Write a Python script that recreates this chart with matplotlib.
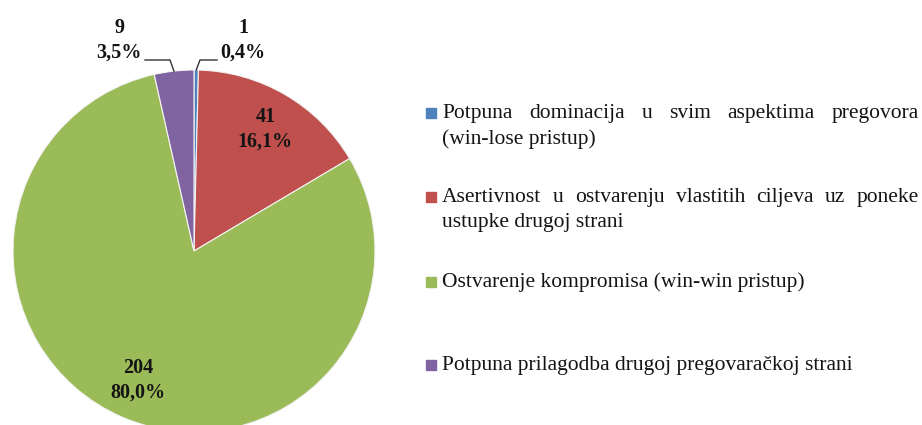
import numpy as np
import matplotlib
matplotlib.use("Agg")
import matplotlib.pyplot as plt
from matplotlib.patches import Rectangle

# dati
counts = [1, 41, 204, 9]
percent_labels = ["0,4%", "16,1%", "80,0%", "3,5%"]
colors = ["#4F81BD", "#C0504D", "#9BBB59", "#8064A2"]
legend_lines = [
    ["Potpuna dominacija u svim aspektima pregovora", "(win-lose pristup)"],
    ["Asertivnost u ostvarenju vlastitih ciljeva uz poneke", "ustupke drugoj strani"],
    ["Ostvarenje kompromisa (win-win pristup)"],
    ["Potpuna prilagodba drugoj pregovaračkoj strani"],
]

W, H = 922, 425
fig = plt.figure(figsize=(W / 100, H / 100), dpi=100)
ax = fig.add_axes([0, 0, 1, 1])

cx, cy, R = 194, H - 251, 181
wedges, _ = ax.pie(counts, colors=colors, startangle=90, counterclock=False,
                   center=(cx, cy), radius=R,
                   wedgeprops=dict(edgecolor="#f4f4f4", linewidth=0.8))
ax.set_xlim(0, W)
ax.set_ylim(0, H)
ax.set_aspect("auto")
ax.axis("off")

serif = "Liberation Serif"
lab_fs = 14.5
txt_col = "#141414"

def mid_point(w, frac):
    ang = np.deg2rad((w.theta1 + w.theta2) / 2)
    return cx + frac * R * np.cos(ang), cy + frac * R * np.sin(ang)

# etichette interne
for i in (1, 2):
    x, y = mid_point(wedges[i], 0.78)
    ax.text(x, y, f"{counts[i]}\n{percent_labels[i]}", ha="center", va="center",
            fontsize=lab_fs, fontweight="bold", family=serif, color=txt_col,
            linespacing=1.3)

# etichette esterne con linee guida
outside = {0: (243, H - 40, 217, 200), 3: (119, H - 40, 145, 170)}
for i, (tx, ty, lx0, lx1) in outside.items():
    ax.text(tx, ty, f"{counts[i]}\n{percent_labels[i]}", ha="center", va="center",
            fontsize=lab_fs, fontweight="bold", family=serif, color=txt_col,
            linespacing=1.3)
    px, py = mid_point(wedges[i], 1.0)
    ax.plot([lx0, lx1, px], [H - 60, H - 60, py], color="#333333", lw=1.0)

# legenda (testo giustificato sulla prima riga delle voci lunghe)
leg_fs = 15.5
text_x = 442
right_x = 919
rows = [(113, 139), (197, 222), (282,), (365,)]
base_off = 5  # da centro riga a baseline
renderer = fig.canvas.get_renderer()

def justify(line, y):
    words = line.split()
    objs = [fig.text(0, 0, w_, fontsize=leg_fs, family=serif, color=txt_col,
                     va="baseline", ha="left") for w_ in words]
    widths = [o.get_window_extent(renderer).width for o in objs]
    gap = (right_x - text_x - sum(widths)) / (len(words) - 1)
    x = text_x
    for o, wd in zip(objs, widths):
        o.set_position((x / W, 1 - (y + base_off) / H))
        x += wd + gap

for k, (lines, ys) in enumerate(zip(legend_lines, rows)):
    fig.patches.append(Rectangle(((text_x - 16) / W, 1 - (ys[0] + 5) / H), 10 / W, 10 / H,
                                 transform=fig.transFigure, color=colors[k]))
    for j, (line, y) in enumerate(zip(lines, ys)):
        if j == 0 and len(lines) > 1:
            justify(line, y)
        else:
            fig.text(text_x / W, 1 - (y + base_off) / H, line, fontsize=leg_fs,
                     family=serif, color=txt_col, va="baseline", ha="left")

fig.savefig("out.png", dpi=100)
